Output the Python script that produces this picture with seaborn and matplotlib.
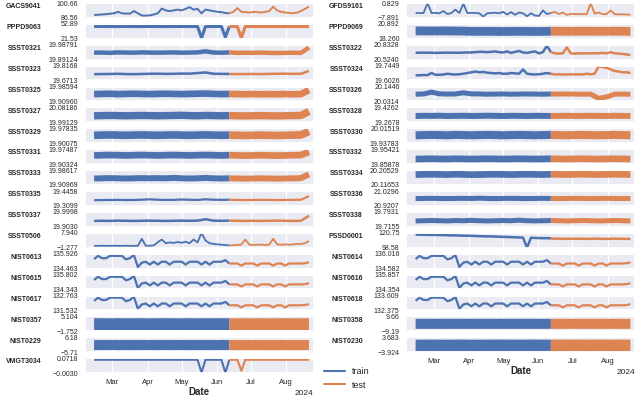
import pandas as pd
import seaborn as sns
import matplotlib.pyplot as plt
import matplotlib.dates as mdates
from matplotlib.lines import Line2D

# sampling dates: weekly for the plain noise bands, half-weekly for the detailed series
weekly = pd.date_range('2024-02-14', periods=28, freq='7D')
halfweekly = pd.date_range('2024-02-14', periods=55, freq='84h')
split_date = pd.Timestamp('2024-06-12')

left_names = ['GACS9041', 'PPPD9063', 'SSST0321', 'SSST0323', 'SSST0325', 'SSST0327',
              'SSST0329', 'SSST0331', 'SSST0333', 'SSST0335', 'SSST0337', 'SSST0506',
              'NIST0613', 'NIST0615', 'NIST0617', 'NIST0357', 'NIST0229', 'VMGT3034']
right_names = ['GFDS9161', 'PPPD9069', 'SSST0322', 'SSST0324', 'SSST0326', 'SSST0328',
               'SSST0330', 'SSST0332', 'SSST0334', 'SSST0336', 'SSST0338', 'PSSD0001',
               'NIST0614', 'NIST0616', 'NIST0618', 'NIST0358', 'NIST0230']

# y-axis limits as printed (min, max)
left_lims = [('86.56', '100.66'), ('21.53', '52.89'), ('19.89124', '19.98791'),
             ('19.6713', '19.8168'), ('19.90960', '19.98594'), ('19.99129', '20.08186'),
             ('19.90075', '19.97835'), ('19.90324', '19.97487'), ('19.90969', '19.98617'),
             ('19.3099', '19.4458'), ('19.9030', '19.9998'), ('-1.277', '7.940'),
             ('134.463', '135.926'), ('134.343', '135.802'), ('131.532', '132.763'),
             ('-1.752', '5.104'), ('-5.71', '6.18'), ('-0.0030', '0.0718')]
right_lims = [('-7.891', '0.829'), ('18.260', '20.892'), ('20.5240', '20.8328'),
              ('19.6026', '19.7449'), ('20.0314', '20.1446'), ('19.2678', '19.4262'),
              ('19.93783', '20.01519'), ('19.85878', '19.95421'), ('20.11653', '20.20529'),
              ('20.9207', '21.0296'), ('19.7155', '19.7931'), ('98.58', '120.75'),
              ('134.582', '136.016'), ('134.354', '135.857'), ('132.375', '133.609'),
              ('-9.19', '9.66'), ('-3.924', '3.683')]

gacs9041 = [89.24, 89.38, 89.66, 89.94, 90.37, 90.79, 92.20, 90.79, 90.51, 90.51, 92.91,
            90.79, 88.68, 88.53, 88.82, 89.66, 90.79, 95.30, 93.61, 92.91, 93.61, 94.32,
            93.61, 95.02, 96.71, 94.32, 95.02, 90.79, 94.32, 93.61, 92.91, 92.20, 91.92,
            91.07, 90.79, 92.20, 95.73, 92.20, 91.92, 91.50, 92.20, 91.92, 91.50, 92.20,
            92.91, 97.14, 93.61, 92.20, 91.50, 91.21, 90.79, 91.50, 92.91, 95.02, 97.14]
pppd9063 = [47.3, 47.3, 47.4, 47.3, 47.3, 47.2, 47.3, 47.4, 47.3, 47.3, 47.3,
            47.2, 47.3, 47.3, 47.4, 47.3, 47.3, 47.3, 47.2, 47.3, 47.3, 47.4,
            47.3, 47.3, 47.3, 47.2, 47.3, 23.1, 47.3, 47.3, 47.3, 47.4, 47.3,
            24.7, 47.3, 47.3, 47.3, 23.1, 47.3, 47.3, 47.2, 47.3, 47.3, 47.3,
            47.3, 47.4, 47.3, 47.3, 47.3, 47.2, 47.3, 47.3, 47.3, 47.3, 47.3]
ssst0321 = [19.936, 19.937, 19.935, 19.938, 19.937, 19.936, 19.938, 19.937, 19.936, 19.937, 19.938, 19.936, 19.937, 19.938,
            19.945, 19.937, 19.936, 19.938, 19.935, 19.936, 19.935, 19.937, 19.935, 19.934, 19.935, 19.936, 19.935, 19.970]
ssst0323 = [19.733, 19.734, 19.735, 19.737, 19.734, 19.733, 19.735, 19.737, 19.738, 19.736, 19.737, 19.739, 19.738, 19.744,
            19.750, 19.737, 19.736, 19.735, 19.734, 19.734, 19.735, 19.734, 19.736, 19.737, 19.738, 19.736, 19.737, 19.765]
ssst0325 = [19.947, 19.948, 19.949, 19.947, 19.948, 19.949, 19.948, 19.947, 19.948, 19.949, 19.948, 19.947, 19.948, 19.949,
            19.950, 19.948, 19.947, 19.948, 19.947, 19.946, 19.947, 19.946, 19.947, 19.946, 19.947, 19.946, 19.947, 19.968]
ssst0327 = [20.031, 20.032, 20.033, 20.032, 20.031, 20.032, 20.033, 20.032, 20.031, 20.032, 20.033, 20.034, 20.032, 20.031,
            20.033, 20.032, 20.031, 20.032, 20.031, 20.030, 20.031, 20.032, 20.031, 20.030, 20.031, 20.032, 20.033, 20.058]
ssst0329 = [19.942, 19.943, 19.944, 19.943, 19.942, 19.943, 19.944, 19.943, 19.942, 19.943, 19.944, 19.943, 19.942, 19.943,
            19.944, 19.943, 19.942, 19.943, 19.942, 19.941, 19.942, 19.943, 19.942, 19.941, 19.942, 19.943, 19.944, 19.962]
ssst0331 = [19.945, 19.946, 19.947, 19.946, 19.945, 19.946, 19.947, 19.946, 19.945, 19.946, 19.947, 19.946, 19.945, 19.946,
            19.947, 19.946, 19.945, 19.946, 19.945, 19.944, 19.945, 19.946, 19.945, 19.944, 19.945, 19.946, 19.947, 19.962]
ssst0333 = [19.943, 19.944, 19.945, 19.944, 19.943, 19.944, 19.945, 19.944, 19.945, 19.944, 19.946, 19.944, 19.943, 19.944,
            19.946, 19.944, 19.943, 19.944, 19.943, 19.942, 19.943, 19.944, 19.943, 19.942, 19.943, 19.944, 19.945, 19.965]
ssst0335 = [19.362, 19.363, 19.364, 19.365, 19.363, 19.364, 19.366, 19.370, 19.366, 19.364, 19.365, 19.368, 19.366, 19.364,
            19.370, 19.366, 19.365, 19.366, 19.364, 19.363, 19.364, 19.365, 19.364, 19.363, 19.364, 19.365, 19.366, 19.400]
ssst0337 = [19.941, 19.942, 19.941, 19.943, 19.942, 19.941, 19.942, 19.943, 19.942, 19.941, 19.942, 19.943, 19.942, 19.943,
            19.952, 19.943, 19.942, 19.943, 19.942, 19.941, 19.942, 19.941, 19.942, 19.943, 19.942, 19.941, 19.942, 19.975]
ssst0506 = [-0.171, -0.171, -0.079, -0.171, -0.171, -0.079, -0.171, -0.171, -0.079, -0.171, -0.171,
            -0.171, 4.253, -0.171, -0.079, 0.106, 2.041, 3.792, 1.488, 1.949, 1.672, 2.225,
            1.765, 2.410, 1.488, 3.792, 1.949, 7.940, 3.147, 1.488, 1.027, 0.751, 0.566,
            0.290, 0.106, 0.198, 0.382, 0.566, 3.792, 0.566, 0.382, 0.566, 0.566, 0.382,
            0.566, 4.253, 0.751, 0.566, 0.751, 0.566, 0.751, 1.027, 1.027, 1.488, 2.871]
nist0613 = [135.399, 135.721, 135.487, 135.487, 135.721, 135.721, 135.721, 135.721, 135.370, 135.487, 135.809,
            134.609, 135.048, 135.136, 134.858, 135.136, 134.858, 135.136, 135.136, 134.858, 135.136, 135.136,
            135.136, 134.858, 135.136, 135.136, 135.136, 134.858, 135.136, 134.858, 135.136, 135.136, 135.136,
            135.297, 134.960, 134.960, 134.960, 134.756, 134.960, 134.960, 134.960, 134.756, 134.960, 134.960,
            134.960, 134.756, 134.960, 134.960, 134.756, 134.960, 134.960, 134.960, 134.960, 134.990, 135.077]
nist0615 = [135.277, 135.598, 135.364, 135.364, 135.598, 135.598, 135.598, 135.598, 135.248, 135.364, 135.685,
            134.489, 134.927, 135.014, 134.737, 135.014, 134.737, 135.014, 135.014, 134.737, 135.014, 135.014,
            135.014, 134.737, 135.014, 135.014, 135.014, 134.737, 135.014, 134.737, 135.014, 135.014, 135.014,
            135.175, 134.839, 134.839, 134.839, 134.635, 134.839, 134.839, 134.839, 134.635, 134.839, 134.839,
            134.839, 134.635, 134.839, 134.839, 134.635, 134.839, 134.839, 134.839, 134.839, 134.868, 134.956]
nist0617 = [132.320, 132.591, 132.394, 132.394, 132.591, 132.591, 132.591, 132.591, 132.295, 132.394, 132.665,
            131.655, 132.024, 132.098, 131.864, 132.098, 131.864, 132.098, 132.098, 131.864, 132.098, 132.098,
            132.098, 131.864, 132.098, 132.098, 132.098, 131.864, 132.098, 131.864, 132.098, 132.098, 132.098,
            132.234, 131.951, 131.951, 131.951, 131.778, 131.951, 131.951, 131.951, 131.778, 131.951, 131.951,
            131.951, 131.778, 131.951, 131.951, 131.778, 131.951, 131.951, 131.951, 131.951, 131.975, 132.049]
nist0357 = [1.52, 1.55, 1.48, 1.56, 1.50, 1.53, 1.55, 1.47, 1.52, 1.56, 1.49, 1.51, 1.55, 1.48,
            1.52, 1.50, 1.55, 1.52, 1.49, 1.53, 1.50, 1.55, 1.49, 1.52, 1.53, 1.50, 1.52, 1.55]
nist0229 = [0.02, -0.05, 0.04, -0.02, 0.01, -0.04, 0.03, 0.00, -0.03, 0.05, -0.01, 0.02, -0.04, 0.03,
            0.01, -0.02, 0.04, 0.00, -0.03, 0.02, -0.01, 0.03, -0.04, 0.01, 0.02, -0.02, 0.00, 0.03]
vmgt3034 = [0.0643, 0.0644, 0.0642, 0.0643, 0.0645, 0.0643, 0.0642, 0.0643, 0.0644, 0.0643, 0.0642,
            0.0643, 0.0644, 0.0643, 0.0642, 0.0643, 0.0644, 0.0643, 0.0643, 0.0642, 0.0643, 0.0644,
            0.0643, 0.0642, 0.0643, 0.0644, 0.0643, -0.0008, 0.0643, 0.0642, 0.0643, 0.0644, 0.0643,
            -0.0015, 0.0643, 0.0644, 0.0643, 0.0082, 0.0643, 0.0642, 0.0643, 0.0644, 0.0643, 0.0642,
            0.0643, 0.0644, 0.0643, 0.0642, 0.0643, 0.0644, 0.0643, 0.0642, 0.0643, 0.0644, 0.0643]

gfds9161 = [-5.101, -5.101, -5.101, 0.829, -5.101, -5.013, -5.275, -3.967, -5.711, -5.101, -3.095,
            -5.101, 0.393, -5.101, -5.013, -5.101, -5.275, -7.193, -5.275, -5.101, -4.926, -5.275,
            -4.403, -5.973, -4.577, -6.147, -4.839, -5.275, -7.019, -5.275, -6.583, -6.845, -3.531,
            -5.711, -5.101, -4.403, -5.711, -4.839, -6.147, -5.711, -5.711, -5.798, -5.711, -5.798,
            0.655, -5.449, -4.839, -5.711, -5.798, -3.531, -5.711, -5.973, -5.798, -5.973, -6.147]
pppd9069 = [19.63, 19.64, 19.62, 19.63, 19.64, 19.62, 19.60, 19.56, 19.55, 19.56, 19.55, 19.54, 19.55, 19.56,
            19.55, 19.54, 19.55, 19.58, 19.57, 19.56, 19.57, 19.58, 19.57, 19.56, 19.57, 19.58, 19.57, 19.56]
ssst0322 = [20.666, 20.666, 20.669, 20.666, 20.666, 20.663, 20.666, 20.666, 20.669, 20.666, 20.666,
            20.666, 20.669, 20.672, 20.672, 20.678, 20.685, 20.685, 20.678, 20.685, 20.694, 20.678,
            20.672, 20.694, 20.663, 20.685, 20.703, 20.672, 20.663, 20.678, 20.694, 20.654, 20.678,
            20.814, 20.678, 20.654, 20.648, 20.654, 20.780, 20.654, 20.648, 20.654, 20.651, 20.654,
            20.654, 20.657, 20.654, 20.663, 20.654, 20.678, 20.654, 20.648, 20.641, 20.632, 20.617]
ssst0324 = [19.652, 19.652, 19.655, 19.654, 19.674, 19.657, 19.657, 19.660, 19.667, 19.662, 19.660,
            19.662, 19.667, 19.674, 19.681, 19.688, 19.681, 19.685, 19.677, 19.674, 19.671, 19.674,
            19.667, 19.667, 19.674, 19.671, 19.667, 19.709, 19.667, 19.662, 19.660, 19.662, 19.667,
            19.674, 19.667, 19.660, 19.662, 19.660, 19.660, 19.662, 19.660, 19.662, 19.660, 19.667,
            19.662, 19.667, 19.738, 19.731, 19.724, 19.709, 19.695, 19.688, 19.681, 19.681, 19.674]
ssst0326 = [20.086, 20.088, 20.102, 20.089, 20.087, 20.088, 20.097, 20.089, 20.088, 20.086, 20.087, 20.088, 20.086, 20.087,
            20.088, 20.087, 20.086, 20.088, 20.087, 20.088, 20.087, 20.086, 20.087, 20.054, 20.065, 20.086, 20.087, 20.086]
ssst0328 = [19.335, 19.337, 19.336, 19.338, 19.335, 19.336, 19.337, 19.335, 19.336, 19.338, 19.336, 19.335, 19.337, 19.336,
            19.335, 19.337, 19.336, 19.335, 19.336, 19.337, 19.335, 19.336, 19.337, 19.336, 19.335, 19.337, 19.336, 19.335]
ssst0330 = [19.979, 19.980, 19.981, 19.980, 19.979, 19.981, 19.980, 19.979, 19.980, 19.981, 19.980, 19.979, 19.980, 19.981,
            19.980, 19.979, 19.980, 19.981, 19.980, 19.979, 19.980, 19.981, 19.980, 19.979, 19.980, 19.981, 19.980, 19.979]
ssst0332 = [19.891, 19.892, 19.893, 19.892, 19.891, 19.893, 19.892, 19.891, 19.892, 19.893, 19.892, 19.891, 19.892, 19.893,
            19.892, 19.891, 19.892, 19.893, 19.892, 19.891, 19.892, 19.893, 19.892, 19.891, 19.892, 19.893, 19.892, 19.891]
ssst0334 = [20.179, 20.180, 20.181, 20.180, 20.179, 20.181, 20.180, 20.178, 20.179, 20.180, 20.181, 20.180, 20.179, 20.180,
            20.181, 20.180, 20.179, 20.181, 20.180, 20.179, 20.180, 20.181, 20.180, 20.179, 20.180, 20.181, 20.180, 20.179]
ssst0336 = [20.974, 20.975, 20.976, 20.975, 20.974, 20.975, 20.976, 20.975, 20.977, 20.975, 20.974, 20.975, 20.976, 20.975,
            20.974, 20.975, 20.976, 20.975, 20.974, 20.975, 20.976, 20.975, 20.974, 20.975, 20.976, 20.975, 20.974, 20.975]
ssst0338 = [19.746, 19.747, 19.748, 19.747, 19.746, 19.748, 19.747, 19.749, 19.747, 19.746, 19.747, 19.748, 19.747, 19.750,
            19.747, 19.746, 19.747, 19.748, 19.747, 19.746, 19.747, 19.748, 19.747, 19.746, 19.747, 19.748, 19.747, 19.746]
pssd0001 = [118.09, 118.09, 117.87, 117.87, 117.65, 117.65, 117.42, 117.42, 117.20, 116.98, 116.98,
            116.76, 116.54, 116.54, 116.32, 116.09, 115.87, 115.65, 115.43, 115.43, 115.21, 114.99,
            114.76, 114.54, 114.32, 114.10, 113.88, 113.66, 98.58, 113.43, 113.21, 112.99, 112.77,
            112.77, 112.55, 111.88, 112.10, 111.88, 111.66, 112.10, 111.88, 111.88, 112.10, 111.66,
            111.88, 112.10, 111.88, 111.88, 111.66, 111.88, 112.10, 111.88, 111.88, 111.66, 111.88]
nist0614 = [135.500, 135.815, 135.586, 135.586, 135.815, 135.815, 135.815, 135.815, 135.471, 135.586, 135.901,
            134.725, 135.156, 135.242, 134.969, 135.242, 134.969, 135.242, 135.242, 134.969, 135.242, 135.242,
            135.242, 134.969, 135.242, 135.242, 135.242, 134.969, 135.242, 134.969, 135.242, 135.242, 135.242,
            135.399, 135.070, 135.070, 135.070, 134.869, 135.070, 135.070, 135.070, 134.869, 135.070, 135.070,
            135.070, 134.869, 135.070, 135.070, 134.869, 135.070, 135.070, 135.070, 135.070, 135.098, 135.184]
nist0616 = [135.316, 135.647, 135.406, 135.406, 135.647, 135.647, 135.647, 135.647, 135.286, 135.406, 135.737,
            134.504, 134.955, 135.045, 134.760, 135.045, 134.760, 135.045, 135.045, 134.760, 135.045, 135.045,
            135.045, 134.760, 135.045, 135.045, 135.045, 134.760, 135.045, 134.760, 135.045, 135.045, 135.045,
            135.211, 134.865, 134.865, 134.865, 134.655, 134.865, 134.865, 134.865, 134.655, 134.865, 134.865,
            134.865, 134.655, 134.865, 134.865, 134.655, 134.865, 134.865, 134.865, 134.865, 134.895, 134.985]
nist0618 = [133.165, 133.436, 133.239, 133.239, 133.436, 133.436, 133.436, 133.436, 133.140, 133.239, 133.510,
            132.498, 132.869, 132.943, 132.708, 132.943, 132.708, 132.943, 132.943, 132.708, 132.943, 132.943,
            132.943, 132.708, 132.943, 132.943, 132.943, 132.708, 132.943, 132.708, 132.943, 132.943, 132.943,
            133.078, 132.795, 132.795, 132.795, 132.622, 132.795, 132.795, 132.795, 132.622, 132.795, 132.795,
            132.795, 132.622, 132.795, 132.795, 132.622, 132.795, 132.795, 132.795, 132.795, 132.819, 132.893]
nist0358 = [0.25, 0.22, 0.28, 0.20, 0.24, 0.26, 0.21, 0.25, 0.23, 0.27, 0.22, 0.24, 0.26, 0.23,
            0.25, 0.21, 0.24, 0.26, 0.22, 0.25, 0.23, 0.27, 0.24, 0.22, 0.25, 0.23, 0.26, 0.24]
nist0230 = [-0.48, -0.52, -0.46, -0.50, -0.54, -0.49, -0.47, -0.51, -0.53, -0.48, -0.50, -0.46, -0.52, -0.49,
            -0.51, -0.47, -0.50, -0.53, -0.49, -0.51, -0.48, -0.50, -0.52, -0.47, -0.49, -0.51, -0.50, -0.48]

left_series = [gacs9041, pppd9063, ssst0321, ssst0323, ssst0325, ssst0327, ssst0329, ssst0331,
               ssst0333, ssst0335, ssst0337, ssst0506, nist0613, nist0615, nist0617, nist0357,
               nist0229, vmgt3034]
right_series = [gfds9161, pppd9069, ssst0322, ssst0324, ssst0326, ssst0328, ssst0330, ssst0332,
                ssst0334, ssst0336, ssst0338, pssd0001, nist0614, nist0616, nist0618, nist0358,
                nist0230]

# line widths (pt) standing in for the thickness of the noise band
left_lw = [1.4, 2.2, 3.2, 1.8, 4.8, 5.3, 5.5, 4.8, 4.3, 1.6, 1.8, 1.3, 1.6, 1.6, 1.6, 8.5, 7.2, 1.5]
right_lw = [1.3, 6.3, 1.8, 1.8, 3.6, 4.3, 5.8, 4.8, 4.8, 3.6, 3.6, 1.8, 1.6, 1.6, 1.6, 7.2, 8.4]

blue, orange = '#4C72B0', '#DD8452'

sns.set_theme(style='darkgrid', rc={'grid.linewidth': 0.8})
plt.rcParams['font.family'] = ['Liberation Sans', 'DejaVu Sans']

fig = plt.figure(figsize=(6.4, 4), dpi=100)
gs = fig.add_gridspec(18, 2, left=85/640, right=635/640, top=397/400, bottom=27/400,
                      wspace=0.407, hspace=0.42)

first = None
columns = [(left_names, left_lims, left_series, left_lw),
           (right_names, right_lims, right_series, right_lw)]
for col, (names, lims, series, lws) in enumerate(columns):
    for row, name in enumerate(names):
        ax = fig.add_subplot(gs[row, col], sharex=first)
        if first is None:
            first = ax
        vals = series[row]
        dates = weekly if len(vals) == len(weekly) else halfweekly
        df = pd.DataFrame({'date': dates, 'value': vals})
        train = df[df['date'] <= split_date].assign(split='train')
        test = df[df['date'] >= split_date].assign(split='test')
        sns.lineplot(data=pd.concat([train, test]), x='date', y='value', hue='split',
                     hue_order=['train', 'test'], palette=[blue, orange], estimator=None,
                     legend=False, linewidth=lws[row], solid_capstyle='butt', ax=ax)

        lo, hi = lims[row]
        ax.set_ylim(float(lo), float(hi))
        ax.set_yticks([float(lo), float(hi)],
                      labels=[lo.replace('-', '\u2212'), hi.replace('-', '\u2212')])
        ax.tick_params(axis='y', labelsize=5, pad=5, length=0)
        ax.set_ylabel(name, rotation=0, ha='right', va='center', fontsize=5, fontweight='bold')
        ax.yaxis.set_label_coords(-0.19, 0.75)

        last = row == len(names) - 1
        if last:
            ax.set_xlabel('Date', fontsize=7, fontweight='bold', labelpad=1)
            ax.tick_params(axis='x', labelsize=5.5, pad=4, length=0)
            ax.xaxis.get_offset_text().set_fontsize(6)
        else:
            ax.set_xlabel('')
            ax.tick_params(axis='x', labelbottom=False, length=0)
            ax.xaxis.get_offset_text().set_visible(False)

locator = mdates.MonthLocator()
first.xaxis.set_major_locator(locator)
first.xaxis.set_major_formatter(mdates.ConciseDateFormatter(locator))
first.set_xlim(pd.Timestamp('2024-02-06'), pd.Timestamp('2024-08-25'))

handles = [Line2D([], [], color=blue, lw=1.5), Line2D([], [], color=orange, lw=1.5)]
fig.legend(handles, ['train', 'test'], loc='upper left', bbox_to_anchor=(316/640, 1 - 359/400),
           frameon=False, fontsize=6.5, handlelength=2.3, labelspacing=0.5)

fig.savefig('out.png', dpi=100)
